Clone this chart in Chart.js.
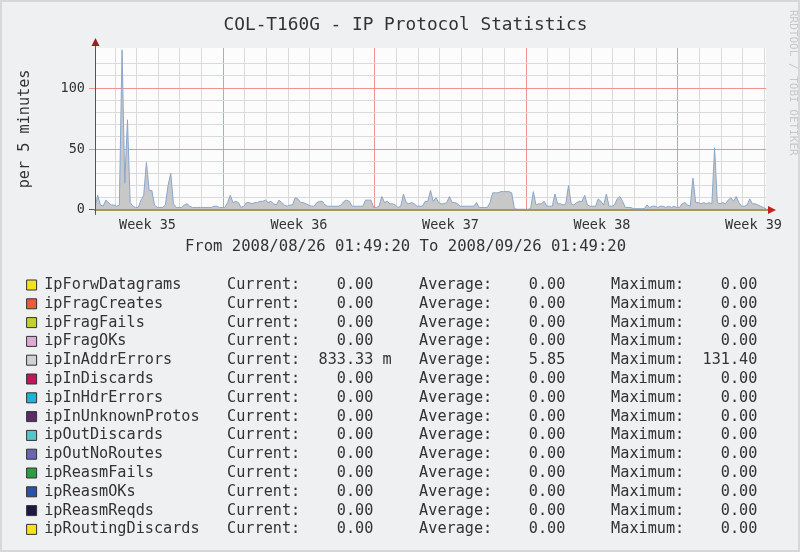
<!DOCTYPE html>
<html>
<head>
<meta charset="utf-8">
<script src="https://cdn.jsdelivr.net/npm/chart.js@4.4.0/dist/chart.umd.min.js"></script>
<style>
  html, body { margin: 0; padding: 0; background: #eef0f1; }
  #wrap { width: 800px; height: 552px; }
</style>
</head>
<body>
<div id="wrap"><canvas id="chart"></canvas></div>
<script>
const chartTitle = 'COL-T160G - IP Protocol Statistics';
const period = 'From 2008/08/26 01:49:20 To 2008/09/26 01:49:20';
const yAxisTitle = 'per 5 minutes';
const watermark = 'RRDTOOL / TOBI OETIKER';

const startTime = Date.UTC(2008, 7, 26, 1, 49, 20);
const endTime = Date.UTC(2008, 8, 26, 1, 49, 20);
const stepHours = 3;

// x axis labels sit in the middle of each week, grid lines at midnight
const weekLabels = ['Week 35', 'Week 36', 'Week 37', 'Week 38', 'Week 39'];
const weekCentres = ['2008-08-28T12:00:00Z', '2008-09-04T12:00:00Z', '2008-09-11T12:00:00Z',
                     '2008-09-18T12:00:00Z', '2008-09-25T12:00:00Z'];
const firstMidnight = '2008-08-27T00:00:00Z';

const seriesNames = ['IpForwDatagrams', 'ipFragCreates', 'ipFragFails', 'ipFragOKs', 'ipInAddrErrors',
  'ipInDiscards', 'ipInHdrErrors', 'ipInUnknownProtos', 'ipOutDiscards', 'ipOutNoRoutes',
  'ipReasmFails', 'ipReasmOKs', 'ipReasmReqds', 'ipRoutingDiscards'];
const seriesColors = ['#f6e21a', '#ee5a3a', '#c2d22a', '#dcaad2', '#d2d2d2',
  '#c2185a', '#1ab6d6', '#5c2a66', '#52c6c8', '#6a66b6',
  '#2e9c44', '#2a52a6', '#1e1846', '#f6e21a'];
const currentValues = [0, 0, 0, 0, 0.83333, 0, 0, 0, 0, 0, 0, 0, 0, 0];
const averageValues = [0, 0, 0, 0, 5.85, 0, 0, 0, 0, 0, 0, 0, 0, 0];
const maximumValues = [0, 0, 0, 0, 131.40, 0, 0, 0, 0, 0, 0, 0, 0, 0];

// ipInAddrErrors, one value every 3 hours from the start time
const inAddrErrors = [
  2, 12, 4, 3, 8, 6, 4, 4, 3, 4,
  131.4, 22, 74, 6, 3, 2, 2, 8, 12, 39,
  16, 16, 4, 2, 2, 2, 4, 20, 30, 5,
  2, 2, 2, 4, 5, 3, 2, 2, 2, 2,
  2, 2, 2, 2, 3, 3, 2, 2, 2, 6,
  12, 6, 7, 6, 2, 3, 6, 6, 5, 6,
  6, 7, 7, 8, 6, 7, 5, 4, 8, 6,
  4, 3, 4, 4, 10, 9, 6, 6, 5, 4,
  3, 3, 6, 7, 7, 4, 3, 3, 3, 3,
  3, 4, 7, 8, 7, 3, 3, 3, 3, 3,
  8, 8, 8, 2, 2, 3, 11, 6, 7, 5,
  5, 4, 2, 3, 13, 6, 5, 6, 5, 3,
  3, 3, 7, 7, 16, 7, 10, 6, 5, 5,
  6, 11, 6, 6, 5, 3, 3, 3, 3, 3,
  3, 6, 2, 2, 2, 2, 6, 14, 14, 14,
  15, 15, 15, 15, 14, 1, 0.5, 0.5, 0.5, 0.5,
  0.5, 1, 15, 4, 5, 5, 7, 3, 3, 3,
  13, 5, 5, 4, 5, 20, 5, 4, 6, 7,
  7, 12, 4, 3, 3, 3, 9, 7, 4, 13,
  3, 3, 4, 9, 11, 7, 2, 2, 2, 1,
  1, 1, 1, 1, 4, 2, 3, 3, 2, 3,
  3, 2, 3, 2, 3, 2, 2, 5, 6, 4,
  3, 26, 6, 6, 5, 6, 5, 6, 5, 51,
  6, 5, 6, 5, 8, 10, 7, 11, 6, 3,
  3, 4, 9, 5, 5, 4, 3, 2, 0.8
];

const mono = 'DejaVu Sans Mono';
const textColor = '#333';
const red = '#ef9292';
const grey = '#dadada';
const none = 'rgba(0,0,0,0)';
const dayMs = 86400000;
const toDays = t => (t - startTime) / dayMs;

function buildXTicks(scale) {
  const ticks = [];
  for (let t = Date.parse(firstMidnight); t < endTime; t += dayMs) {
    ticks.push({ value: toDays(t), monday: new Date(t).getUTCDay() === 1 });
  }
  weekCentres.forEach((c, i) => ticks.push({ value: toDays(Date.parse(c)), text: weekLabels[i] }));
  ticks.sort((a, b) => a.value - b.value);
  scale.ticks = ticks;
}

// rrdtool style value, e.g. 833.33 m
function fmt(v) {
  if (v !== 0 && Math.abs(v) < 1) return (v * 1000).toFixed(2).padStart(8) + ' m';
  return v.toFixed(2).padStart(8);
}

function legendItems() {
  return seriesNames.map((name, i) => ({
    text: name.padEnd(20) + 'Current:' + fmt(currentValues[i]).padEnd(13) +
          'Average:' + fmt(averageValues[i]).padEnd(13) + 'Maximum:' + fmt(maximumValues[i]),
    fillStyle: seriesColors[i],
    strokeStyle: '#333',
    lineWidth: 1,
    fontColor: textColor,
    hidden: false
  }));
}

const rrdDecor = {
  id: 'rrdDecor',
  beforeDraw(chart) {
    const { ctx, width, height, chartArea: a } = chart;
    ctx.save();
    ctx.fillStyle = '#eef0f1';
    ctx.fillRect(0, 0, width, height);
    ctx.strokeStyle = '#d6d8d9';
    ctx.lineWidth = 2;
    ctx.strokeRect(1, 1, width - 2, height - 2);
    ctx.fillStyle = '#fcfcfc';
    ctx.fillRect(a.left, a.top, a.right - a.left, a.bottom - a.top);
    ctx.restore();
  },
  afterDraw(chart) {
    const { ctx, chartArea: a } = chart;
    ctx.save();
    // axis ends + arrows
    ctx.strokeStyle = '#555';
    ctx.lineWidth = 1;
    ctx.beginPath();
    ctx.moveTo(a.left + 0.5, a.top - 4);
    ctx.lineTo(a.left + 0.5, a.bottom + 5);
    ctx.stroke();
    ctx.strokeStyle = '#a8945c';
    ctx.lineWidth = 2;
    ctx.beginPath();
    ctx.moveTo(a.right, a.bottom);
    ctx.lineTo(a.right + 4, a.bottom);
    ctx.stroke();
    ctx.fillStyle = '#a01c1c';
    ctx.beginPath();
    ctx.moveTo(a.left + 0.5, a.top - 10);
    ctx.lineTo(a.left - 3.5, a.top - 2);
    ctx.lineTo(a.left + 4.5, a.top - 2);
    ctx.closePath();
    ctx.fill();
    ctx.fillStyle = '#c42020';
    ctx.beginPath();
    ctx.moveTo(a.right + 10, a.bottom);
    ctx.lineTo(a.right + 2, a.bottom - 4);
    ctx.lineTo(a.right + 2, a.bottom + 4);
    ctx.closePath();
    ctx.fill();
    // watermark on the right edge
    ctx.translate(chart.width - 7.5, 10);
    ctx.rotate(Math.PI / 2);
    ctx.fillStyle = '#c6c8ca';
    ctx.font = '11px "' + mono + '"';
    ctx.textBaseline = 'middle';
    ctx.textAlign = 'left';
    ctx.fillText(watermark, 0, 0);
    ctx.restore();
  }
};

new Chart(document.getElementById('chart'), {
  type: 'line',
  data: {
    datasets: [{
      label: 'ipInAddrErrors',
      data: inAddrErrors.map((v, i) => ({ x: i * stepHours / 24, y: v })),
      borderColor: '#8aa6cc',
      borderWidth: 1,
      backgroundColor: '#c8c8c8',
      fill: 'origin',
      pointRadius: 0,
      tension: 0
    }]
  },
  options: {
    responsive: true,
    maintainAspectRatio: false,
    animation: false,
    devicePixelRatio: 1,
    layout: { padding: { left: 23, right: 12, top: 0, bottom: 5 } },
    scales: {
      x: {
        type: 'linear',
        min: 0,
        max: toDays(endTime),
        afterBuildTicks: buildXTicks,
        grid: {
          color: c => c.tick && c.tick.text ? none : (c.tick && c.tick.monday ? red : grey),
          drawTicks: false
        },
        border: { color: '#a8945c', width: 2, z: 1 },
        ticks: {
          autoSkip: false,
          maxRotation: 0,
          minRotation: 0,
          padding: 8,
          color: textColor,
          font: { family: mono, size: 13.5 },
          callback: (v, i, ticks) => ticks[i].text || ''
        }
      },
      y: {
        min: 0,
        max: 133,
        afterFit: s => { s.width = 72; },
        ticks: {
          stepSize: 10,
          autoSkip: false,
          padding: 4,
          color: textColor,
          font: { family: mono, size: 13.5 },
          callback: v => v % 50 === 0 ? String(v) : ''
        },
        grid: {
          color: c => c.tick.value % 50 === 0 ? red : (c.tick.value % 10 === 0 ? grey : none),
          tickLength: 6,
          tickColor: c => c.tick.value === 0 ? '#555' : (c.tick.value % 50 === 0 ? red : none)
        },
        border: { color: '#555', width: 1 },
        title: {
          display: true,
          text: yAxisTitle,
          color: textColor,
          font: { family: mono, size: 15.2 },
          padding: { top: -7, bottom: 0 }
        }
      },
      yr: {
        position: 'right',
        min: 0,
        max: 1,
        afterFit: s => { s.width = 22; },
        grid: { display: false },
        border: { display: false },
        ticks: { display: false }
      }
    },
    plugins: {
      tooltip: { enabled: false },
      title: {
        display: true,
        text: chartTitle,
        color: textColor,
        font: { family: mono, size: 17.8, weight: 'normal' },
        padding: { top: 14.3, bottom: 12.3 }
      },
      subtitle: {
        display: true,
        position: 'bottom',
        weight: 500,
        text: period,
        color: textColor,
        font: { family: mono, size: 15.6, weight: 'normal' },
        padding: { top: -5, bottom: 18 }
      },
      legend: {
        position: 'bottom',
        align: 'start',
        onClick: () => {},
        labels: {
          boxWidth: 10,
          boxHeight: 10,
          padding: 3.6,
          color: textColor,
          font: { family: mono, size: 15.2 },
          generateLabels: legendItems
        }
      }
    }
  },
  plugins: [rrdDecor]
});
</script>
</body>
</html>
